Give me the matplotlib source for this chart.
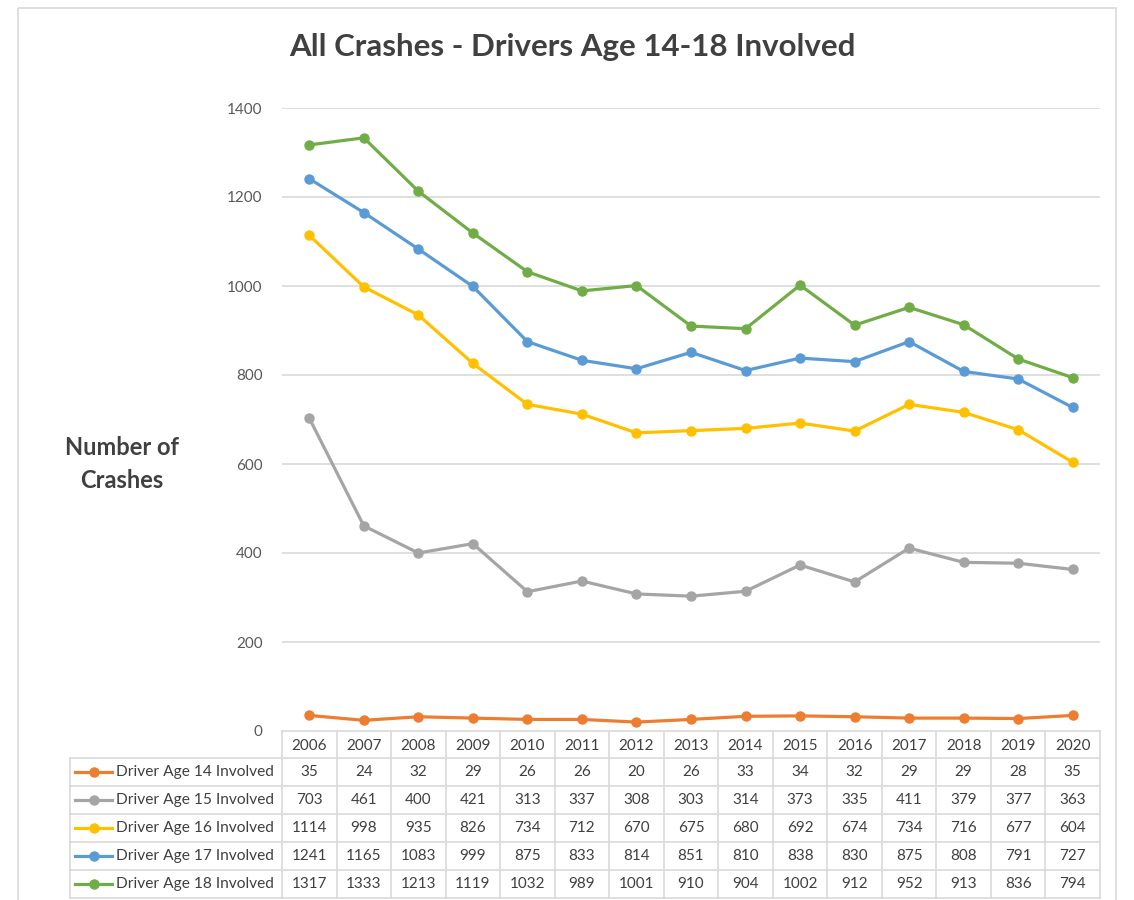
import numpy as np
import matplotlib.pyplot as plt
from matplotlib.lines import Line2D
from matplotlib.patches import Rectangle

years = [2006, 2007, 2008, 2009, 2010, 2011, 2012, 2013, 2014, 2015, 2016, 2017, 2018, 2019, 2020]
age14 = [35, 24, 32, 29, 26, 26, 20, 26, 33, 34, 32, 29, 29, 28, 35]
age15 = [703, 461, 400, 421, 313, 337, 308, 303, 314, 373, 335, 411, 379, 377, 363]
age16 = [1114, 998, 935, 826, 734, 712, 670, 675, 680, 692, 674, 734, 716, 677, 604]
age17 = [1241, 1165, 1083, 999, 875, 833, 814, 851, 810, 838, 830, 875, 808, 791, 727]
age18 = [1317, 1333, 1213, 1119, 1032, 989, 1001, 910, 904, 1002, 912, 952, 913, 836, 794]

labels = ["Driver Age 14 Involved", "Driver Age 15 Involved", "Driver Age 16 Involved",
          "Driver Age 17 Involved", "Driver Age 18 Involved"]
series = [age14, age15, age16, age17, age18]
colors = ["#ED7D31", "#A5A5A5", "#FFC000", "#5B9BD5", "#70AD47"]

plt.rcParams['font.family'] = ['Lato', 'DejaVu Sans']

W, H = 1134, 900
fig = plt.figure(figsize=(W / 100, H / 100), dpi=100)

# plot area in pixels
L, R, T, B = 282, 1100, 108, 731
ax = fig.add_axes([L / W, 1 - B / H, (R - L) / W, (B - T) / H])
x = np.arange(len(years))
for vals, c in zip(series, colors):
    ax.plot(x, vals, color=c, lw=2.3, marker='o', ms=6.5, zorder=3)
ax.set_xlim(-0.5, len(years) - 0.5)
ax.set_ylim(0, 1400)
ax.set_yticks(range(0, 1401, 200))
ax.set_xticks([])
ax.grid(axis='y', color='#D9D9D9', lw=1.2)
ax.set_axisbelow(True)
for s in ax.spines.values():
    s.set_visible(False)
ax.tick_params(axis='y', length=0, pad=14, labelsize=11, labelcolor='#595959')

# overlay in pixel coords for title, border and data table
ov = fig.add_axes([0, 0, 1, 1], zorder=-1)
ov.set_xlim(0, W)
ov.set_ylim(H, 0)
ov.axis('off')
ov.add_patch(Rectangle((18, 8), 1098, 895, fill=False, ec='#D9D9D9', lw=1.2))

fig.text(572 / W, 1 - 47 / H, "All Crashes - Drivers Age 14-18 Involved", ha='center', va='center',
         fontsize=22.5, fontweight='bold', color='#404040')
fig.text(122 / W, 1 - 464 / H, "Number of\nCrashes", ha='center', va='center',
         fontsize=17, fontweight='bold', color='#404040', linespacing=1.5)

gc = '#D9D9D9'
col_w = (R - L) / len(years)
row_h = 28
top = B
head_b = B + 27
lab_l = 70
rows_b = [head_b + row_h * (i + 1) for i in range(len(series))]
# header
ov.plot([L, R], [top, top], color=gc, lw=1.2)
for i in range(len(years) + 1):
    ov.plot([L + i * col_w] * 2, [top, rows_b[-1]], color=gc, lw=1.2)
ov.plot([lab_l, R], [head_b, head_b], color=gc, lw=1.2)
for yb in rows_b:
    ov.plot([lab_l, R], [yb, yb], color=gc, lw=1.2)
ov.plot([lab_l, lab_l], [head_b, rows_b[-1]], color=gc, lw=1.2)
for i, yr in enumerate(years):
    ov.text(L + (i + 0.5) * col_w, (top + head_b) / 2 + 1, str(yr), ha='center', va='center',
            fontsize=11, color='#404040')
for j, (vals, c, lab) in enumerate(zip(series, colors, labels)):
    yc = head_b + row_h * (j + 0.5)
    ov.add_line(Line2D([75, 112], [yc, yc], color=c, lw=2.3))
    ov.add_line(Line2D([93.5], [yc], color=c, marker='o', ms=6.5))
    ov.text(116, yc, lab, ha='left', va='center', fontsize=11.2, color='#404040')
    for i, v in enumerate(vals):
        ov.text(L + (i + 0.5) * col_w, yc, str(v), ha='center', va='center',
                fontsize=11, color='#404040')

fig.savefig("out.png", dpi=100, facecolor='white')
